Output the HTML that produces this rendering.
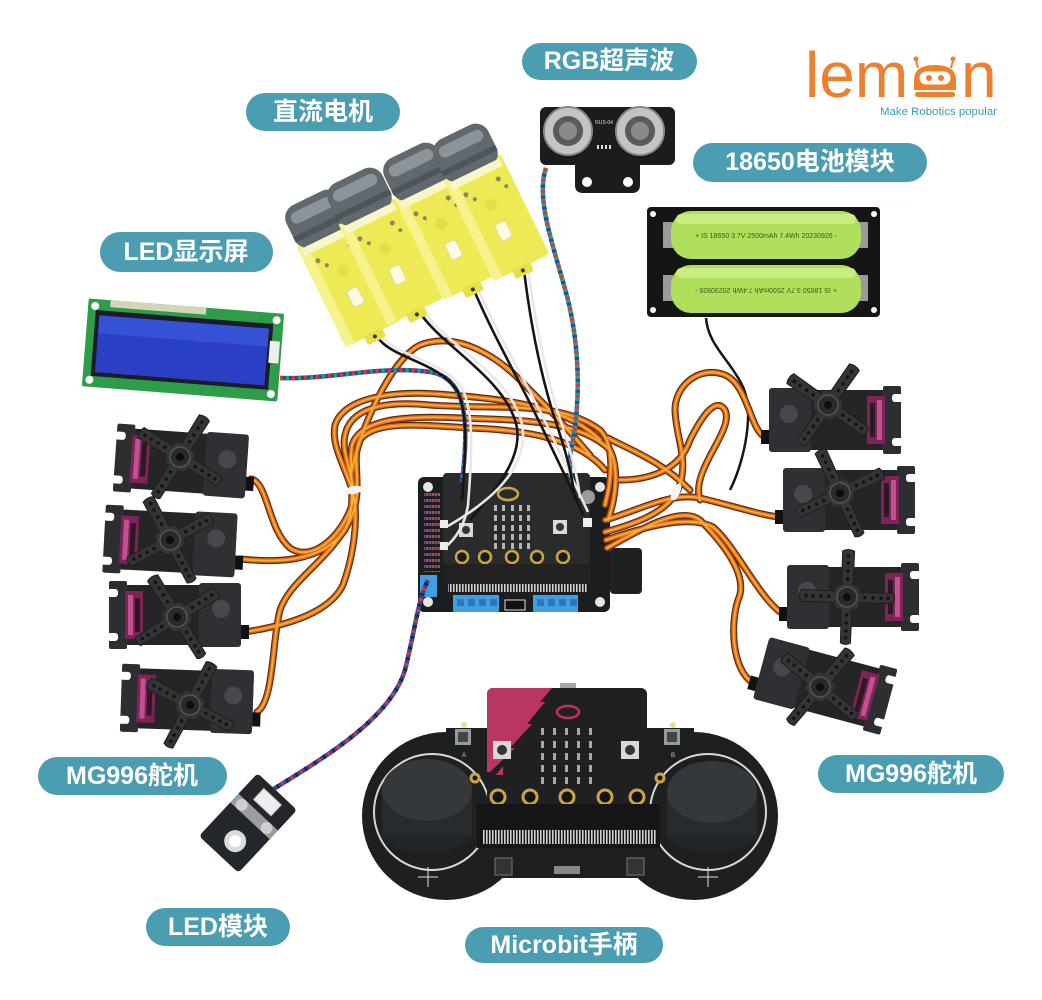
<!DOCTYPE html>
<html><head><meta charset="utf-8"><style>
html,body{margin:0;padding:0;background:#fff;}
svg{display:block;}
.lbl{font-family:"Liberation Sans","Noto Sans CJK SC",sans-serif;font-weight:bold;font-size:25px;fill:#fff;text-anchor:middle;dominant-baseline:central;}
</style></head><body>
<svg width="1042" height="1000" viewBox="0 0 1042 1000" xmlns="http://www.w3.org/2000/svg">
<defs>
<pattern id="pins" width="3" height="10" patternUnits="userSpaceOnUse"><rect width="1.6" height="10" fill="#cfcfcf"/></pattern>
<pattern id="hdr" width="6" height="6" patternUnits="userSpaceOnUse"><rect x="0" y="1" width="2.5" height="3" fill="#c8403a"/><rect x="3" y="1" width="2.5" height="3" fill="#3a5fc0"/></pattern>
<g id="servo">
 <rect x="-50" y="-30" width="116" height="60" rx="3" fill="#252527"/>
 <rect x="24" y="-32" width="42" height="64" rx="3" fill="#2f3033"/>
 <circle cx="46" cy="-6" r="9" fill="#46484c"/>
 <rect x="-66" y="-34" width="18" height="68" rx="2" fill="#2d2e31"/>
 <rect x="-68" y="-26" width="11" height="8" rx="3" fill="#fff"/>
 <rect x="-68" y="18" width="11" height="8" rx="3" fill="#fff"/>
 <rect x="-50" y="-24" width="18" height="48" fill="#7d2358"/>
 <rect x="-47" y="-20" width="5" height="40" fill="#c25192"/>
 <rect x="-40" y="-17" width="5" height="34" fill="#2a1a22"/>
 <rect x="66" y="10" width="8" height="14" fill="#111"/>
</g>
<g id="horn">
 <path d="M-46,-6 L46,-5 Q49,0 46,5 L-46,6 Q-49,0 -46,-6 Z" fill="#343436" stroke="#1e1e1e" stroke-width="1"/>
 <path d="M-6,-46 L-5,46 Q0,49 5,46 L6,-46 Q0,-49 -6,-46 Z" fill="#343436" stroke="#1e1e1e" stroke-width="1"/>
 <rect x="-12" y="-12" width="24" height="24" rx="6" fill="#343436"/>
 <g fill="#141414">
  <circle cx="18" cy="0" r="1.8"/><circle cx="26" cy="0" r="1.8"/><circle cx="34" cy="0" r="1.8"/><circle cx="41" cy="0" r="1.8"/>
  <circle cx="-18" cy="0" r="1.8"/><circle cx="-26" cy="0" r="1.8"/><circle cx="-34" cy="0" r="1.8"/><circle cx="-41" cy="0" r="1.8"/>
  <circle cx="0" cy="18" r="1.8"/><circle cx="0" cy="26" r="1.8"/><circle cx="0" cy="34" r="1.8"/><circle cx="0" cy="41" r="1.8"/>
  <circle cx="0" cy="-18" r="1.8"/><circle cx="0" cy="-26" r="1.8"/><circle cx="0" cy="-34" r="1.8"/><circle cx="0" cy="-41" r="1.8"/>
 </g>
 <circle r="10" fill="#2a2a2c" stroke="#555" stroke-width="1.5"/>
 <circle r="4" fill="#0e0e0e"/>
</g>
<g id="motor">
 <rect x="-31" y="-40" width="62" height="112" rx="4" fill="#eeea55"/>
 <rect x="-31" y="-40" width="10" height="112" fill="#f6f38e"/>
 <rect x="-30" y="-79" width="60" height="46" rx="14" fill="#62696e"/>
 <rect x="-24" y="-72" width="48" height="12" rx="6" fill="#8d9499"/>
 <rect x="-30" y="-50" width="60" height="6" fill="#4c5559"/>
 <rect x="-28" y="-36" width="56" height="8" fill="#f7f6c8"/>
 <circle cx="-18" cy="-18" r="2.5" fill="#8a8a60"/><circle cx="18" cy="-18" r="2.5" fill="#8a8a60"/>
 <circle cx="-12" cy="-10" r="2" fill="#8a8a60"/><circle cx="22" cy="-8" r="2" fill="#8a8a60"/>
 <circle cx="0" cy="2" r="6" fill="#e4df48"/>
 <rect x="-6" y="22" width="12" height="18" rx="3" fill="#fffbe2" stroke="#dedaa0"/>
 <rect x="-10" y="70" width="20" height="10" rx="2" fill="#e6e04a"/>
 <circle cx="0" cy="75" r="2" fill="#333"/>
</g>
<path id="c1" d="M251,479 C 268,482 268,530 290,548 C 310,562 340,540 352,505 C 358,480 340,455 345,435 C 350,410 380,400 430,405 C 500,410 560,400 600,430 C 615,445 612,480 605,505"/>
<path id="c2" d="M240,559 C 270,562 320,565 345,530 C 358,505 348,470 352,445 C 360,420 400,415 460,418 C 520,420 580,420 610,450 C 620,470 615,500 608,520"/>
<path id="c3" d="M245,632 C 290,625 330,612 343,585 C 352,560 357,530 355,505 C 352,475 330,450 335,425 C 345,395 400,390 450,395 C 520,400 570,410 600,440"/>
<path id="c4" d="M257,712 C 274,702 272,640 280,610 C 290,580 330,560 350,520 C 365,490 350,460 360,440 C 375,420 420,425 470,428 C 530,430 580,440 605,470"/>
<path id="c5" d="M352,470 C 360,430 390,360 420,345 C 460,330 500,360 520,380 C 545,405 560,420 590,455"/>
<path id="r1" d="M765,437 C 750,430 748,385 725,375 C 700,365 675,385 675,410 C 676,440 690,460 678,490 C 665,515 630,525 605,532"/>
<path id="r2" d="M779,517 C 760,515 730,505 700,498 C 670,492 640,510 605,520"/>
<path id="r3" d="M783,614 C 760,600 735,545 713,527 C 690,515 650,525 606,540"/>
<path id="r4" d="M753,683 C 732,670 730,625 738,600 C 750,575 720,540 700,520 C 680,505 640,530 607,548"/>
<path id="r5" d="M700,500 C 690,470 735,430 725,410 C 715,395 700,420 690,440 C 680,470 650,480 620,480"/>
<path id="r6" d="M690,490 C 660,460 630,450 608,438"/>
</defs>

<rect width="1042" height="1000" fill="#fff"/>

<!-- central board -->
<g>
 <rect x="418" y="477" width="192" height="135" rx="6" fill="#1c1d1f"/>
 <rect x="610" y="548" width="32" height="46" rx="4" fill="#1f2021"/>
 <rect x="424" y="492" width="16" height="80" fill="url(#hdr)"/>
 <rect x="420" y="575" width="17" height="22" fill="#3f9fe0"/>
 <g fill="#e6e6e6"><circle cx="428" cy="487" r="5"/><circle cx="600" cy="487" r="5"/><circle cx="428" cy="602" r="5"/><circle cx="600" cy="602" r="5"/></g>
 <polygon points="448,478 492,476 488,492 450,498" fill="#159a78"/>
 <rect x="443" y="473" width="147" height="92" rx="4" fill="#2a2b2d"/>
 <ellipse cx="508" cy="494" rx="10" ry="6" fill="none" stroke="#c9a640" stroke-width="2.5"/>
 <g fill="#b5b5b5">
  <rect x="494" y="505" width="3" height="6"/><rect x="502" y="505" width="3" height="6"/><rect x="511" y="505" width="3" height="6"/><rect x="519" y="505" width="3" height="6"/><rect x="527" y="505" width="3" height="6"/>
  <rect x="494" y="515" width="3" height="6"/><rect x="502" y="515" width="3" height="6"/><rect x="511" y="515" width="3" height="6"/><rect x="519" y="515" width="3" height="6"/><rect x="527" y="515" width="3" height="6"/>
  <rect x="494" y="525" width="3" height="6"/><rect x="502" y="525" width="3" height="6"/><rect x="511" y="525" width="3" height="6"/><rect x="519" y="525" width="3" height="6"/><rect x="527" y="525" width="3" height="6"/>
  <rect x="494" y="534" width="3" height="6"/><rect x="502" y="534" width="3" height="6"/><rect x="511" y="534" width="3" height="6"/><rect x="519" y="534" width="3" height="6"/><rect x="527" y="534" width="3" height="6"/>
  <rect x="494" y="543" width="3" height="6"/><rect x="502" y="543" width="3" height="6"/><rect x="511" y="543" width="3" height="6"/><rect x="519" y="543" width="3" height="6"/><rect x="527" y="543" width="3" height="6"/>
 </g>
 <rect x="459" y="523" width="14" height="14" fill="#d8d8d8"/><circle cx="466" cy="530" r="4" fill="#333"/>
 <rect x="553" y="520" width="14" height="14" fill="#d8d8d8"/><circle cx="560" cy="527" r="4" fill="#333"/>
 <g fill="#1a1a1a" stroke="#c9a640" stroke-width="2.5">
  <circle cx="462" cy="557" r="6"/><circle cx="485" cy="557" r="6"/><circle cx="512" cy="557" r="6"/><circle cx="537" cy="557" r="6"/><circle cx="563" cy="557" r="6"/>
 </g>
 <rect x="445" y="564" width="145" height="20" fill="#222"/>
 <rect x="448" y="584" width="140" height="8" fill="url(#pins)"/>
 <rect x="453" y="595" width="46" height="17" fill="#3f9fe0"/>
 <rect x="533" y="595" width="45" height="17" fill="#3f9fe0"/>
 <g fill="#2c78b8"><rect x="457" y="599" width="7" height="7"/><rect x="468" y="599" width="7" height="7"/><rect x="479" y="599" width="7" height="7"/><rect x="490" y="599" width="7" height="7"/><rect x="537" y="599" width="7" height="7"/><rect x="548" y="599" width="7" height="7"/><rect x="559" y="599" width="7" height="7"/><rect x="570" y="599" width="7" height="7"/></g>
 <rect x="505" y="600" width="20" height="10" fill="#111" stroke="#ddd"/>
 <circle cx="588" cy="497" r="7" fill="#9a9a9a"/>
 <rect x="583" y="518" width="9" height="9" fill="#eee"/>
 <rect x="440" y="520" width="8" height="8" fill="#eee"/>
 <rect x="440" y="542" width="8" height="8" fill="#eee"/>
</g>

<!-- battery wire -->
<path d="M706,318 C 708,345 730,360 742,385 C 755,410 745,460 730,490" stroke="#151515" stroke-width="2.5" fill="none"/>

<!-- servo cables -->
<g fill="none" stroke-linecap="round">
 <g stroke="#5a2a10" stroke-width="7"><use href="#c1"/><use href="#c2"/><use href="#c3"/><use href="#c4"/><use href="#c5"/><use href="#r1"/><use href="#r2"/><use href="#r3"/><use href="#r4"/><use href="#r5"/><use href="#r6"/></g>
 <g stroke="#e0661e" stroke-width="4.6"><use href="#c1"/><use href="#c2"/><use href="#c3"/><use href="#c4"/><use href="#c5"/><use href="#r1"/><use href="#r2"/><use href="#r3"/><use href="#r4"/><use href="#r5"/><use href="#r6"/></g>
 <g stroke="#f2b233" stroke-width="1.8"><use href="#c1"/><use href="#c2"/><use href="#c3"/><use href="#c4"/><use href="#c5"/><use href="#r1"/><use href="#r2"/><use href="#r3"/><use href="#r4"/><use href="#r5"/><use href="#r6"/></g>
</g>
<ellipse cx="354" cy="490" rx="9" ry="4" fill="#f4f4f4" transform="rotate(-10 354 490)"/>
<ellipse cx="676" cy="492" rx="4" ry="9" fill="#f4f4f4" transform="rotate(25 676 492)"/>

<!-- twisted cables -->
<g fill="none" stroke-width="4.5">
 <path d="M280,378 C 330,380 380,365 430,372 C 470,378 468,430 462,482" stroke="#2848a8"/>
 <path d="M280,378 C 330,380 380,365 430,372 C 470,378 468,430 462,482" stroke="#d23a3a" stroke-dasharray="3 9"/>
 <path d="M280,378 C 330,380 380,365 430,372 C 470,378 468,430 462,482" stroke="#2a9a7a" stroke-dasharray="3 9" stroke-dashoffset="6"/>
 <path d="M546,168 C 535,200 555,250 568,300 C 580,350 580,400 573,440 C 568,460 570,475 572,482" stroke="#2a9a8a"/>
 <path d="M546,168 C 535,200 555,250 568,300 C 580,350 580,400 573,440 C 568,460 570,475 572,482" stroke="#d23a3a" stroke-dasharray="3 8"/>
 <path d="M546,168 C 535,200 555,250 568,300 C 580,350 580,400 573,440 C 568,460 570,475 572,482" stroke="#2848a8" stroke-dasharray="3 8" stroke-dashoffset="5"/>
 <path d="M272,790 C 320,760 390,720 405,670 C 415,630 418,600 428,580" stroke="#2848a8"/>
 <path d="M272,790 C 320,760 390,720 405,670 C 415,630 418,600 428,580" stroke="#d23a3a" stroke-dasharray="3 8"/>
 <path d="M272,790 C 320,760 390,720 405,670 C 415,630 418,600 428,580" stroke="#222" stroke-dasharray="2 9" stroke-dashoffset="5"/>
</g>

<!-- motor wires -->
<g fill="none" stroke-width="2.6">
 <path d="M378,338 C 395,360 440,362 458,392 C 468,415 466,450 462,500" stroke="#151515"/>
 <path d="M382,337 C 400,358 445,360 463,390 C 474,415 472,455 468,505 C 465,525 455,540 444,548" stroke="#e8e8e8"/>
 <path d="M418,310 C 440,345 500,375 515,420 C 525,450 505,480 470,520" stroke="#151515"/>
 <path d="M422,309 C 445,345 505,370 521,420 C 530,455 510,490 448,526" stroke="#e8e8e8"/>
 <path d="M474,290 C 495,340 525,390 548,440 C 562,470 575,495 583,515" stroke="#151515"/>
 <path d="M478,289 C 500,340 530,388 553,438 C 567,468 580,495 588,512" stroke="#e8e8e8"/>
 <path d="M524,270 C 530,320 540,370 552,410 C 562,440 572,470 575,500" stroke="#151515"/>
 <path d="M528,269 C 535,320 545,370 557,410 C 567,440 577,470 580,498" stroke="#e8e8e8"/>
</g>

<!-- LCD -->
<g transform="translate(183,350) rotate(4.5)">
 <rect x="-98" y="-44" width="196" height="88" rx="2" fill="#2e9c49"/>
 <rect x="-76" y="-44" width="96" height="7" fill="#d6d6b0"/>
 <rect x="-76" y="-44" width="96" height="7" fill="url(#pins)" opacity="0.5"/>
 <g fill="#fff"><circle cx="-91" cy="-37" r="4"/><circle cx="91" cy="-37" r="4"/><circle cx="-91" cy="37" r="4"/><circle cx="91" cy="37" r="4"/></g>
 <rect x="-90" y="-33" width="178" height="66" fill="#1b1b2a"/>
 <rect x="-86" y="-28" width="170" height="57" fill="#2b3fc4"/>
 <rect x="-86" y="-28" width="170" height="18" fill="#3552d6"/>
 <rect x="86" y="-16" width="10" height="22" fill="#eee"/>
</g>

<!-- motors -->
<use href="#motor" transform="translate(342,269) rotate(-26)"/>
<use href="#motor" transform="translate(384,247) rotate(-26)"/>
<use href="#motor" transform="translate(440,222) rotate(-26)"/>
<use href="#motor" transform="translate(490,203) rotate(-26)"/>

<!-- ultrasonic -->
<g>
 <rect x="540" y="107" width="135" height="58" rx="6" fill="#1c1c1c"/>
 <path d="M575,160 L640,160 L640,185 Q640,193 632,193 L583,193 Q575,193 575,185 Z" fill="#1c1c1c"/>
 <circle cx="587" cy="182" r="5" fill="#fff"/><circle cx="628" cy="182" r="5" fill="#fff"/>
 <circle cx="568" cy="131" r="24" fill="#c4c4c4" stroke="#8a8a8a" stroke-width="2"/>
 <circle cx="568" cy="131" r="15" fill="#5a5a5a"/><circle cx="568" cy="131" r="9" fill="#8a8a8a"/>
 <circle cx="640" cy="131" r="24" fill="#c4c4c4" stroke="#8a8a8a" stroke-width="2"/>
 <circle cx="640" cy="131" r="15" fill="#5a5a5a"/><circle cx="640" cy="131" r="9" fill="#8a8a8a"/>
 <text x="604" y="124" font-family="Liberation Sans, sans-serif" font-size="5" fill="#ddd" text-anchor="middle">RUS-04</text>
 <g fill="#ddd"><rect x="597" y="145" width="2" height="4"/><rect x="601" y="145" width="2" height="4"/><rect x="605" y="145" width="2" height="4"/><rect x="609" y="145" width="2" height="4"/></g>
</g>

<!-- battery -->
<g>
 <rect x="647" y="207" width="233" height="110" rx="4" fill="#151515"/>
 <g fill="#fff"><circle cx="653" cy="214" r="3"/><circle cx="874" cy="214" r="3"/><circle cx="653" cy="310" r="3"/><circle cx="874" cy="310" r="3"/></g>
 <rect x="663" y="222" width="10" height="26" fill="#9a9a9a"/><rect x="858" y="222" width="10" height="26" fill="#9a9a9a"/>
 <rect x="663" y="275" width="10" height="26" fill="#9a9a9a"/><rect x="858" y="275" width="10" height="26" fill="#9a9a9a"/>
 <rect x="671" y="211" width="190" height="48" rx="20" fill="#b0df5c"/>
 <rect x="676" y="214" width="180" height="10" rx="5" fill="#c8ee82"/>
 <rect x="671" y="265" width="190" height="48" rx="20" fill="#b0df5c"/>
 <rect x="676" y="268" width="180" height="10" rx="5" fill="#c8ee82"/>
 <text x="766" y="238" font-family="Liberation Sans, sans-serif" font-size="7" fill="#3a5a1a" text-anchor="middle">+ IS 18650 3.7V 2500mAh 7.4Wh 20230926 -</text>
 <text x="766" y="292" font-family="Liberation Sans, sans-serif" font-size="7" fill="#3a5a1a" text-anchor="middle" transform="rotate(180 766 290)">+ IS 18650 3.7V 2500mAh 7.4Wh 20230926 -</text>
</g>

<!-- left servos -->
<use href="#servo" transform="translate(181,462) rotate(4)"/>
<use href="#horn" transform="translate(180,457) rotate(32)"/>
<use href="#servo" transform="translate(170,542) rotate(3)"/>
<use href="#horn" transform="translate(170,540) rotate(62)"/>
<use href="#servo" transform="translate(175,615)"/>
<use href="#horn" transform="translate(177,617) rotate(58)"/>
<use href="#servo" transform="translate(187,700) rotate(2)"/>
<use href="#horn" transform="translate(190,705) rotate(28)"/>

<!-- right servos -->
<use href="#servo" transform="translate(835,420) scale(-1,1)"/>
<use href="#horn" transform="translate(828,405) rotate(35)"/>
<use href="#servo" transform="translate(849,500) scale(-1,1)"/>
<use href="#horn" transform="translate(840,493) rotate(65)"/>
<use href="#servo" transform="translate(853,597) scale(-1,1)"/>
<use href="#horn" transform="translate(847,597) rotate(2)"/>
<use href="#servo" transform="translate(825,685) rotate(15) scale(-1,1)"/>
<use href="#horn" transform="translate(820,687) rotate(40)"/>

<!-- gamepad -->
<g>
 <circle cx="446" cy="816" r="84" fill="#1e1f21"/>
 <circle cx="694" cy="816" r="84" fill="#1e1f21"/>
 <rect x="446" y="728" width="248" height="150" fill="#1e1f21"/>
 <circle cx="432" cy="812" r="58" fill="none" stroke="#d8d8d8" stroke-width="2"/>
 <circle cx="708" cy="812" r="58" fill="none" stroke="#d8d8d8" stroke-width="2"/>
 <rect x="560" y="683" width="16" height="7" fill="#a8a8a8"/>
 <rect x="487" y="688" width="160" height="120" rx="6" fill="#202022"/>
 <polygon points="487,692 491,688 552,688 540,702 545,702 527,724 532,724 510,748 515,748 490,772 487,772" fill="#b8365f"/>
 <ellipse cx="568" cy="712" rx="11" ry="6" fill="none" stroke="#c0335f" stroke-width="2.5"/>
 <g fill="#a8a8a8">
  <rect x="541" y="728" width="3" height="7"/><rect x="553" y="728" width="3" height="7"/><rect x="565" y="728" width="3" height="7"/><rect x="577" y="728" width="3" height="7"/><rect x="589" y="728" width="3" height="7"/>
  <rect x="541" y="741" width="3" height="7"/><rect x="553" y="741" width="3" height="7"/><rect x="565" y="741" width="3" height="7"/><rect x="577" y="741" width="3" height="7"/><rect x="589" y="741" width="3" height="7"/>
  <rect x="541" y="753" width="3" height="7"/><rect x="553" y="753" width="3" height="7"/><rect x="565" y="753" width="3" height="7"/><rect x="577" y="753" width="3" height="7"/><rect x="589" y="753" width="3" height="7"/>
  <rect x="541" y="765" width="3" height="7"/><rect x="553" y="765" width="3" height="7"/><rect x="565" y="765" width="3" height="7"/><rect x="577" y="765" width="3" height="7"/><rect x="589" y="765" width="3" height="7"/>
  <rect x="541" y="777" width="3" height="7"/><rect x="553" y="777" width="3" height="7"/><rect x="565" y="777" width="3" height="7"/><rect x="577" y="777" width="3" height="7"/><rect x="589" y="777" width="3" height="7"/>
 </g>
 <rect x="493" y="741" width="18" height="18" fill="#d8d8d8"/><circle cx="502" cy="750" r="5" fill="#333"/>
 <rect x="621" y="741" width="18" height="18" fill="#d8d8d8"/><circle cx="630" cy="750" r="5" fill="#333"/>
 <polygon points="496,775 503,766 503,775" fill="#c0335f"/>
 <g fill="#141414" stroke="#c9a640" stroke-width="3">
  <circle cx="498" cy="797" r="7"/><circle cx="530" cy="797" r="7"/><circle cx="567" cy="797" r="7"/><circle cx="605" cy="797" r="7"/><circle cx="637" cy="797" r="7"/>
  <circle cx="475" cy="778" r="4"/><circle cx="660" cy="778" r="4"/>
 </g>
 <rect x="477" y="804" width="183" height="44" fill="#161616"/>
 <rect x="482" y="830" width="174" height="14" fill="url(#pins)"/>
 <rect x="455" y="729" width="16" height="16" fill="#9a9a9a"/><rect x="458" y="732" width="10" height="10" fill="#3a4a4a"/>
 <rect x="664" y="729" width="16" height="16" fill="#9a9a9a"/><rect x="667" y="732" width="10" height="10" fill="#3a4a4a"/>
 <circle cx="464" cy="725" r="3" fill="#e8e090"/><circle cx="673" cy="725" r="3" fill="#e8e090"/>
 <rect x="495" y="858" width="17" height="17" fill="#333" stroke="#777"/>
 <rect x="627" y="858" width="17" height="17" fill="#333" stroke="#777"/>
 <rect x="554" y="866" width="26" height="8" fill="#888"/>
 <g stroke="#ddd" stroke-width="1"><line x1="418" y1="877" x2="438" y2="877"/><line x1="428" y1="867" x2="428" y2="887"/><line x1="698" y1="877" x2="718" y2="877"/><line x1="708" y1="867" x2="708" y2="887"/></g>
 <text x="464" y="757" font-family="Liberation Sans, sans-serif" font-size="6" fill="#ccc" text-anchor="middle">A</text>
 <text x="673" y="757" font-family="Liberation Sans, sans-serif" font-size="6" fill="#ccc" text-anchor="middle">B</text>
 <ellipse cx="427" cy="835" rx="45" ry="17" fill="#222527"/>
 <rect x="382" y="790" width="90" height="45" fill="#282b2e"/>
 <ellipse cx="427" cy="790" rx="45" ry="31" fill="#34383b"/>
 <ellipse cx="712" cy="835" rx="45" ry="17" fill="#222527"/>
 <rect x="667" y="792" width="90" height="43" fill="#282b2e"/>
 <ellipse cx="712" cy="792" rx="45" ry="31" fill="#34383b"/>
</g>

<!-- LED module -->
<g transform="translate(248,823) rotate(-47)">
 <rect x="-43" y="-27" width="86" height="54" rx="4" fill="#23272c"/>
 <rect x="3" y="-27" width="12" height="54" fill="#9a9ea2"/>
 <circle cx="9" cy="-17" r="6" fill="#cfcfcf"/><circle cx="9" cy="17" r="6" fill="#cfcfcf"/>
 <rect x="21" y="-12" width="15" height="24" fill="#eee" stroke="#bbb"/>
 <circle cx="-22" cy="3" r="11" fill="#d9dcde"/><circle cx="-22" cy="3" r="6" fill="#fff"/>
</g>

<!-- labels -->
<g fill="#4b9db2">
 <rect x="246" y="93" width="154" height="38" rx="19"/>
 <rect x="100" y="232" width="173" height="40" rx="20"/>
 <rect x="522" y="43" width="175" height="37" rx="18.5"/>
 <rect x="693" y="143" width="234" height="39" rx="19.5"/>
 <rect x="38" y="757" width="189" height="38" rx="19"/>
 <rect x="818" y="755" width="186" height="38" rx="19"/>
 <rect x="146" y="908" width="144" height="38" rx="19"/>
 <rect x="465" y="927" width="198" height="36" rx="18"/>
</g>
<text class="lbl" x="323" y="112">直流电机</text>
<text class="lbl" x="186" y="252">LED显示屏</text>
<text class="lbl" x="609" y="61">RGB超声波</text>
<text class="lbl" x="810" y="162">18650电池模块</text>
<text class="lbl" x="132" y="776">MG996舵机</text>
<text class="lbl" x="911" y="774">MG996舵机</text>
<text class="lbl" x="218" y="927">LED模块</text>
<text class="lbl" x="564" y="945">Microbit手柄</text>

<!-- logo -->
<g>
 <text x="805" y="97" font-family="Liberation Sans, sans-serif" font-size="64" fill="#ee7f2d">lem</text>
 <text x="961" y="97" font-family="Liberation Sans, sans-serif" font-size="64" fill="#ee7f2d">n</text>
 <line x1="918" y1="68" x2="916" y2="60" stroke="#ee7f2d" stroke-width="2"/>
 <line x1="951" y1="68" x2="953" y2="60" stroke="#ee7f2d" stroke-width="2"/>
 <circle cx="916" cy="59" r="2.5" fill="#ee7f2d"/><circle cx="953" cy="59" r="2.5" fill="#ee7f2d"/>
 <path d="M914,90 L914,80 Q914,65 935,65 Q956,65 956,80 L956,90 Z" fill="#ee7f2d"/>
 <rect x="919" y="71" width="32" height="14" rx="7" fill="#fff" stroke="#ee7f2d" stroke-width="1"/>
 <circle cx="929" cy="78" r="3" fill="#ee7f2d"/><circle cx="941" cy="78" r="3" fill="#ee7f2d"/>
 <rect x="915" y="92" width="40" height="5" rx="2.5" fill="#ee7f2d"/>
 <text x="880" y="115" font-family="Liberation Sans, sans-serif" font-size="11" fill="#3a9db0" textLength="117" lengthAdjust="spacingAndGlyphs">Make Robotics popular</text>
</g>
</svg>
</body></html>
